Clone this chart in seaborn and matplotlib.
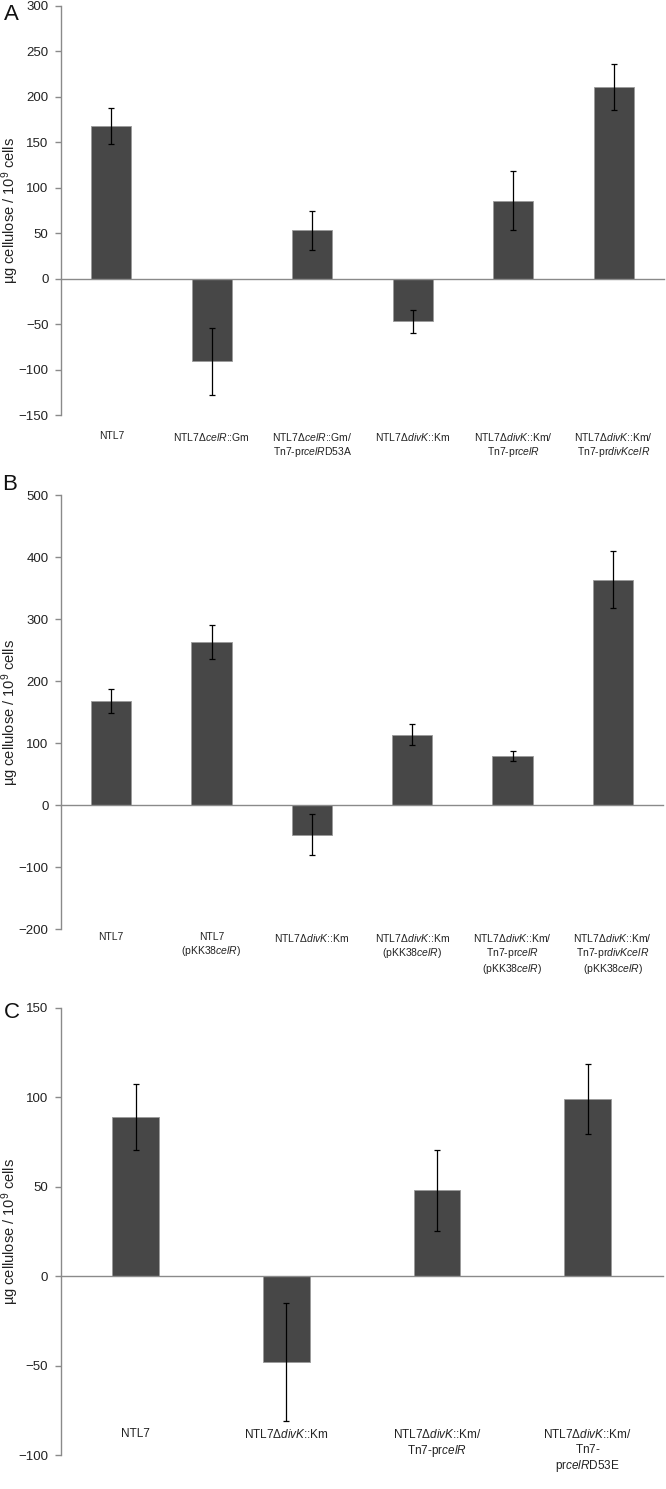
import matplotlib
matplotlib.use("Agg")
import matplotlib.pyplot as plt
import seaborn as sns
import pandas as pd
import numpy as np

# panel A
labels_a = [
    "NTL7",
    "NTL7Δ$\\mathit{celR}$::Gm",
    "NTL7Δ$\\mathit{celR}$::Gm/\nTn$\\mathit{7}$-pr$\\mathit{celR}$D53A",
    "NTL7Δ$\\mathit{divK}$::Km",
    "NTL7Δ$\\mathit{divK}$::Km/\nTn$\\mathit{7}$-pr$\\mathit{celR}$",
    "NTL7Δ$\\mathit{divK}$::Km/\nTn$\\mathit{7}$-pr$\\mathit{divKcelR}$",
]
values_a = [168, -91, 53, -47, 86, 211]
errors_a = [20, 37, 21, 12.5, 33, 25.5]

# panel B
labels_b = [
    "NTL7",
    "NTL7\n(pKK38$\\mathit{celR}$)",
    "NTL7Δ$\\mathit{divK}$::Km",
    "NTL7Δ$\\mathit{divK}$::Km\n(pKK38$\\mathit{celR}$)",
    "NTL7Δ$\\mathit{divK}$::Km/\nTn$\\mathit{7}$-pr$\\mathit{celR}$\n(pKK38$\\mathit{celR}$)",
    "NTL7Δ$\\mathit{divK}$::Km/\nTn$\\mathit{7}$-pr$\\mathit{divKcelR}$\n(pKK38$\\mathit{celR}$)",
]
values_b = [168, 263, -48, 113, 79, 363]
errors_b = [19, 27, 33, 17, 8.5, 46]

# panel C
labels_c = [
    "NTL7",
    "NTL7Δ$\\mathit{divK}$::Km",
    "NTL7Δ$\\mathit{divK}$::Km/\nTn$\\mathit{7}$-pr$\\mathit{celR}$",
    "NTL7Δ$\\mathit{divK}$::Km/\nTn$\\mathit{7}$-\npr$\\mathit{celR}$D53E",
]
values_c = [89, -48, 48, 99]
errors_c = [18.5, 33, 22.5, 19.5]

ylim_a, yticks_a = (-150, 300), [-150, -100, -50, 0, 50, 100, 150, 200, 250, 300]
ylim_b, yticks_b = (-200, 500), [-200, -100, 0, 100, 200, 300, 400, 500]
ylim_c, yticks_c = (-100, 150), [-100, -50, 0, 50, 100, 150]

sns.set_style("white")
plt.rcParams["font.family"] = ["Liberation Sans", "DejaVu Sans"]
plt.rcParams["mathtext.fontset"] = "custom"
plt.rcParams["mathtext.rm"] = "Liberation Sans"
plt.rcParams["mathtext.it"] = "Liberation Sans:italic"
plt.rcParams["mathtext.default"] = "regular"

W, H = 666, 1489
fig = plt.figure(figsize=(W / 100, H / 100), dpi=100)

bar_color = "#474747"
axis_gray = "#8a8a8a"


def px_axes(left, right, top, bottom):
    return fig.add_axes([left / W, 1 - bottom / H, (right - left) / W, (bottom - top) / H])


def panel(ax, labels, values, errors, ylim, yticks, width, label_size, label_y):
    df = pd.DataFrame({"strain": labels, "value": values})
    sns.barplot(data=df, x="strain", y="value", order=labels, color=bar_color,
                saturation=1, width=width, edgecolor="#9a9a9a", linewidth=0.6, ax=ax)
    x = np.arange(len(labels))
    ax.errorbar(x, values, yerr=errors, fmt="none", ecolor="black",
                elinewidth=0.9, capsize=2.5, capthick=0.9)
    ax.set_xlim(-0.5, len(labels) - 0.5)
    ax.set_ylim(*ylim)
    ax.set_yticks(yticks)
    ax.set_xlabel("")
    ax.set_ylabel("µg cellulose / 10$^{9}$ cells", fontsize=10.5, color="#222222")
    ax.yaxis.set_label_coords(-0.066, 0.5)
    for s in ["top", "right"]:
        ax.spines[s].set_visible(False)
    ax.spines["left"].set_color(axis_gray)
    ax.spines["left"].set_linewidth(1)
    ax.spines["bottom"].set_position(("data", 0))
    ax.spines["bottom"].set_color(axis_gray)
    ax.spines["bottom"].set_linewidth(1)
    ax.set_xticks(x + 0.5)
    ax.set_xticklabels([])
    ax.tick_params(axis="x", direction="out", length=3, color=axis_gray, width=1)
    ax.tick_params(axis="y", direction="out", length=4, color=axis_gray, width=1,
                   labelsize=9.5, labelcolor="#222222", pad=5, left=True)
    for i, lab in enumerate(labels):
        ax.text(i, label_y, lab, transform=ax.get_xaxis_transform(), ha="center",
                va="top", fontsize=label_size, color="#222222", linespacing=1.2)


ax_a = px_axes(61, 664, 6, 415)
panel(ax_a, labels_a, values_a, errors_a, ylim_a, yticks_a, 0.4, 7.5, -0.04)

ax_b = px_axes(61, 663, 495, 929)
panel(ax_b, labels_b, values_b, errors_b, ylim_b, yticks_b, 0.4, 7.5, -0.008)

ax_c = px_axes(60.5, 663, 1008, 1455)
panel(ax_c, labels_c, values_c, errors_c, ylim_c, yticks_c, 0.31, 8.5, 0.06)

# panel letters
for letter, (px, py) in zip(["A", "B", "C"], [(11, 15), (10, 485), (12, 1013)]):
    fig.text(px / W, 1 - py / H, letter, fontsize=16, ha="center", va="center",
             color="#111111")

fig.savefig("out.png", dpi=100, facecolor="white")
